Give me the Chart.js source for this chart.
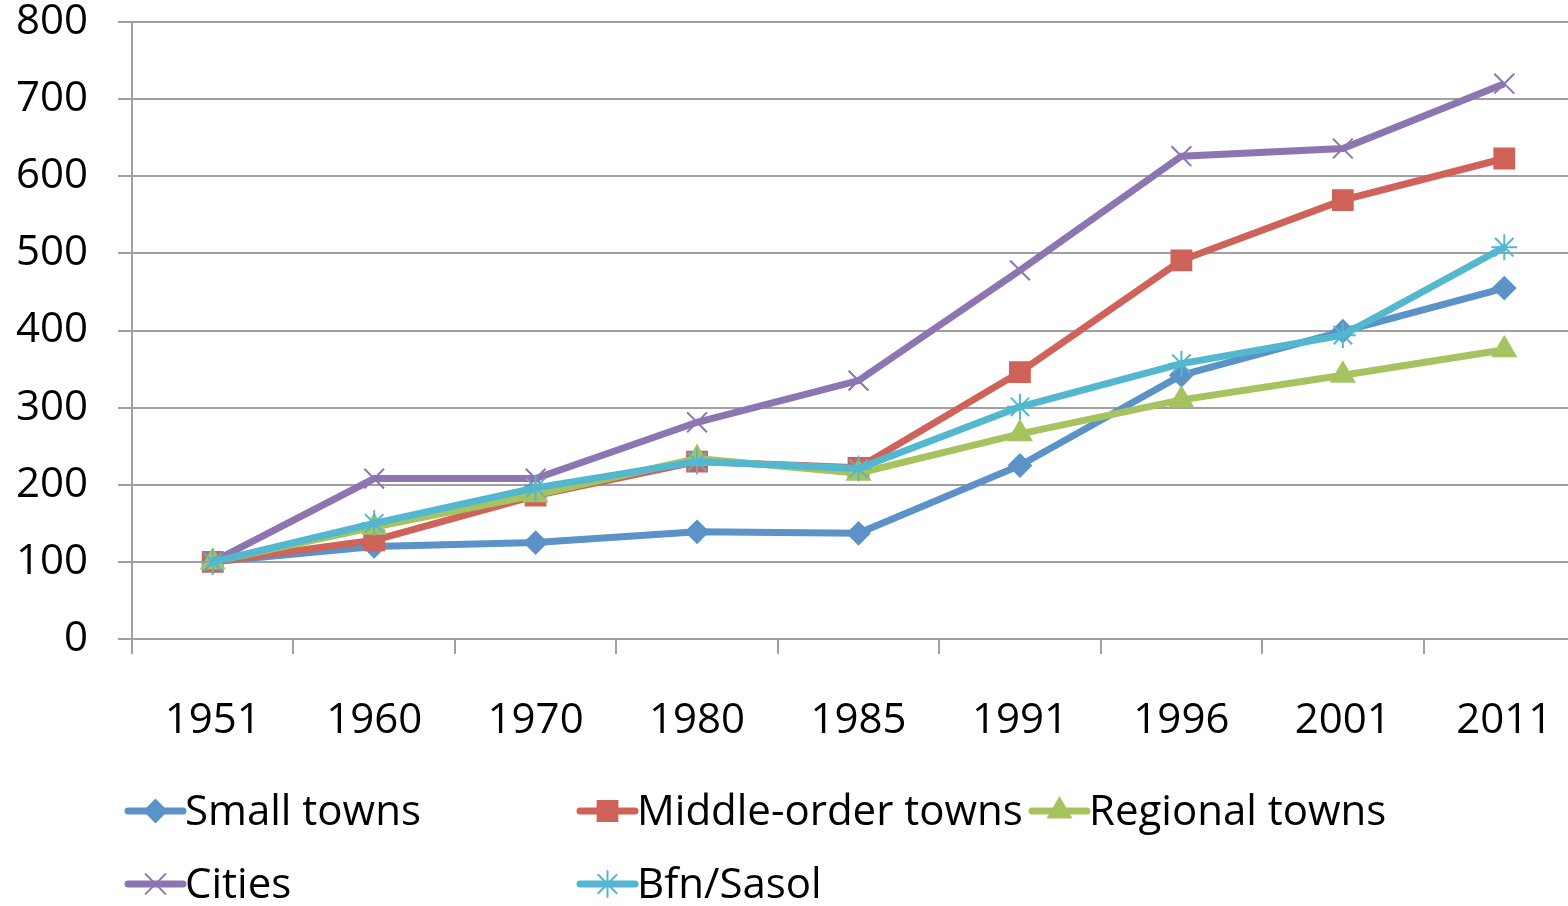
<!DOCTYPE html>
<html>
<head>
<meta charset="utf-8">
<script src="https://cdn.jsdelivr.net/npm/chart.js@4.4.1/dist/chart.umd.min.js"></script>
<style>
  html, body { margin: 0; padding: 0; background: #fff; overflow: hidden; }
  #wrap { position: absolute; left: 0; top: 0; width: 1590px; height: 906px; }
</style>
</head>
<body>
<div id="wrap"><canvas id="chart" width="1590" height="906"></canvas></div>
<script>
const years = ["1951", "1960", "1970", "1980", "1985", "1991", "1996", "2001", "2011"];
const smallTowns = [100, 120, 125, 139, 137, 225, 342, 399, 455];
const middleOrderTowns = [100, 128, 186, 230, 222, 346, 491, 569, 623];
const regionalTowns = [100, 145, 187, 234, 215, 266, 310, 342, 375];
const cities = [100, 208, 208, 281, 335, 478, 626, 636, 720];
const bfnSasol = [100, 150, 196, 230, 221, 301, 357, 394, 508];
const yTicks = [0, 100, 200, 300, 400, 500, 600, 700, 800];

const FONT = "'Open Sans', 'Noto Sans', sans-serif";
const axisGrey = "#a0a0a0";

function series(label, data, color, style, radius, order) {
  return {
    label,
    data,
    borderColor: color,
    backgroundColor: color,
    borderWidth: 7,
    pointStyle: style,
    pointRadius: radius,
    pointHoverRadius: radius,
    pointBackgroundColor: color,
    pointBorderColor: color,
    pointBorderWidth: 2,
    tension: 0,
    order,
  };
}

// legend laid out in fixed columns like the original
const columnLegend = {
  id: "columnLegend",
  afterDraw(chart) {
    const ctx = chart.ctx;
    ctx.save();
    chart.data.datasets.forEach((ds, i) => {
      const col = i % 3;
      const row = Math.floor(i / 3);
      const x0 = 128 + col * 452;
      const y = 813 + row * 73;
      ctx.strokeStyle = ds.borderColor;
      ctx.lineWidth = 7;
      ctx.lineCap = "round";
      ctx.beginPath();
      ctx.moveTo(x0, y - 2);
      ctx.lineTo(x0 + 55, y - 2);
      ctx.stroke();
      ctx.fillStyle = ds.borderColor;
      ctx.lineWidth = 2;
      Chart.helpers.drawPoint(ctx, {
        pointStyle: ds.pointStyle,
        radius: ds.pointRadius,
        rotation: 0,
        borderWidth: 2,
      }, x0 + 27.5, y - 2);
      ctx.fillStyle = "#000";
      ctx.font = `42px ${FONT}`;
      ctx.textAlign = "left";
      ctx.textBaseline = "middle";
      ctx.fillText(ds.label, x0 + 57, y);
    });
    ctx.restore();
  },
};

new Chart(document.getElementById("chart"), {
  type: "line",
  data: {
    labels: years,
    datasets: [
      series("Small towns", smallTowns, "#5b93c9", "rectRot", 11, 4),
      series("Middle-order towns", middleOrderTowns, "#cf6259", "rect", 14, 3),
      series("Regional towns", regionalTowns, "#a6c35f", "triangle", 13, 2),
      series("Cities", cities, "#8d75b1", "crossRot", 14, 1),
      series("Bfn/Sasol", bfnSasol, "#52b7cf", "star", 13, 0),
    ],
  },
  options: {
    responsive: false,
    animation: false,
    layout: { autoPadding: false, padding: { left: 0, right: 5, top: 22, bottom: 0 } },
    scales: {
      x: {
        type: "category",
        offset: true,
        afterFit(axis) { axis.height = 267; axis.paddingLeft = 0; axis.paddingRight = 0; },
        grid: {
          offset: true,
          drawOnChartArea: false,
          drawTicks: true,
          tickLength: 15,
          color: axisGrey,
          lineWidth: 2,
        },
        border: { display: true, color: axisGrey, width: 2 },
        ticks: { color: "#000", font: { family: FONT, size: 42 }, padding: 42, maxRotation: 0, autoSkip: false },
      },
      y: {
        min: 0,
        max: 800,
        afterBuildTicks(axis) { axis.ticks = yTicks.map((v) => ({ value: v })); },
        afterFit(axis) { axis.width = 132; axis.paddingTop = 0; axis.paddingBottom = 0; },
        grid: { color: axisGrey, lineWidth: 2, tickLength: 14 },
        border: { display: true, color: axisGrey, width: 2 },
        ticks: { color: "#000", font: { family: FONT, size: 42 }, padding: 30 },
      },
    },
    plugins: {
      legend: { display: false },
      tooltip: { enabled: false },
    },
  },
  plugins: [columnLegend],
});
</script>
</body>
</html>
